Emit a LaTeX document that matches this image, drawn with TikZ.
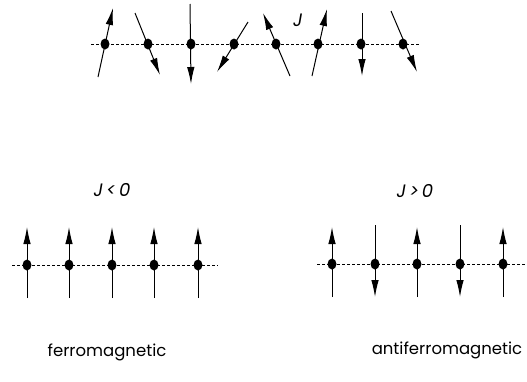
\documentclass[tikz,border=0pt]{standalone}
\usepackage{fontspec}
\setmainfont{Poppins}
\usetikzlibrary{arrows.meta,shapes.geometric}
\begin{document}
\begin{tikzpicture}[x=1pt,y=-1pt,
  site/.style={ellipse,fill=black,inner sep=0pt,minimum width=9pt,minimum height=11pt},
  spin/.style={line width=1pt,-{Latex[length=17pt,width=7.5pt]}},
  chain/.style={line width=0.6pt,dash pattern=on 3pt off 2pt},
  lbl/.style={font=\fontsize{16.5}{19}\selectfont},
  jl/.style={font=\fontsize{18}{20}\selectfont\itshape}]
\useasboundingbox (0,0) rectangle (527,381);
% top chain
\coordinate (tl) at (91,44); \coordinate (tr) at (420,44);
\draw[chain] (tl) -- (tr);
\foreach \i/\x/\ax/\ay/\bx/\by in {1/105/98/77/113/8, 2/148/135/13/160/75, 3/191/190/4/191/84, 4/234/248/22/217/72, 5/276/290/76/263/13, 6/318/312/76/327/9, 7/361/362/13/362/76, 8/403/391/11/417/72}{
  \coordinate (ta\i) at (\ax,\ay);
  \coordinate (tb\i) at (\bx,\by);
  \draw[spin] (ta\i) -- (tb\i);
  \node[site] (t\i) at (\x,44) {};
}
\node[jl] (J) at (298,20) {J};
% ferromagnetic
\coordinate (fl) at (12,265); \coordinate (fr) at (218,265);
\draw[chain] (fl) -- (fr);
\foreach \i/\x in {1/27,2/69,3/112,4/154,5/198}{
  \coordinate (fa\i) at (\x,298);
  \coordinate (fb\i) at (\x,227);
  \draw[spin] (fa\i) -- (fb\i);
  \node[site] (f\i) at (\x,265) {};
}
\node[jl] (Jneg) at (112,190) {J\,<\,0};
\node[lbl] (ferro) at (107,352) {ferromagnetic};
% antiferromagnetic
\coordinate (al) at (317,264); \coordinate (ar) at (525,264);
\draw[chain] (al) -- (ar);
\foreach \i/\x/\ya/\yb in {1/332/297/227, 2/375/225/297, 3/417/297/227, 4/460/225/297, 5/503/297/227}{
  \coordinate (aa\i) at (\x,\ya);
  \coordinate (ab\i) at (\x,\yb);
  \draw[spin] (aa\i) -- (ab\i);
  \node[site] (a\i) at (\x,264) {};
}
\node[jl] (Jpos) at (415,191) {J\,>\,0};
\node[lbl] (anti) at (447,350) {antiferromagnetic};
\end{tikzpicture}
\end{document}
